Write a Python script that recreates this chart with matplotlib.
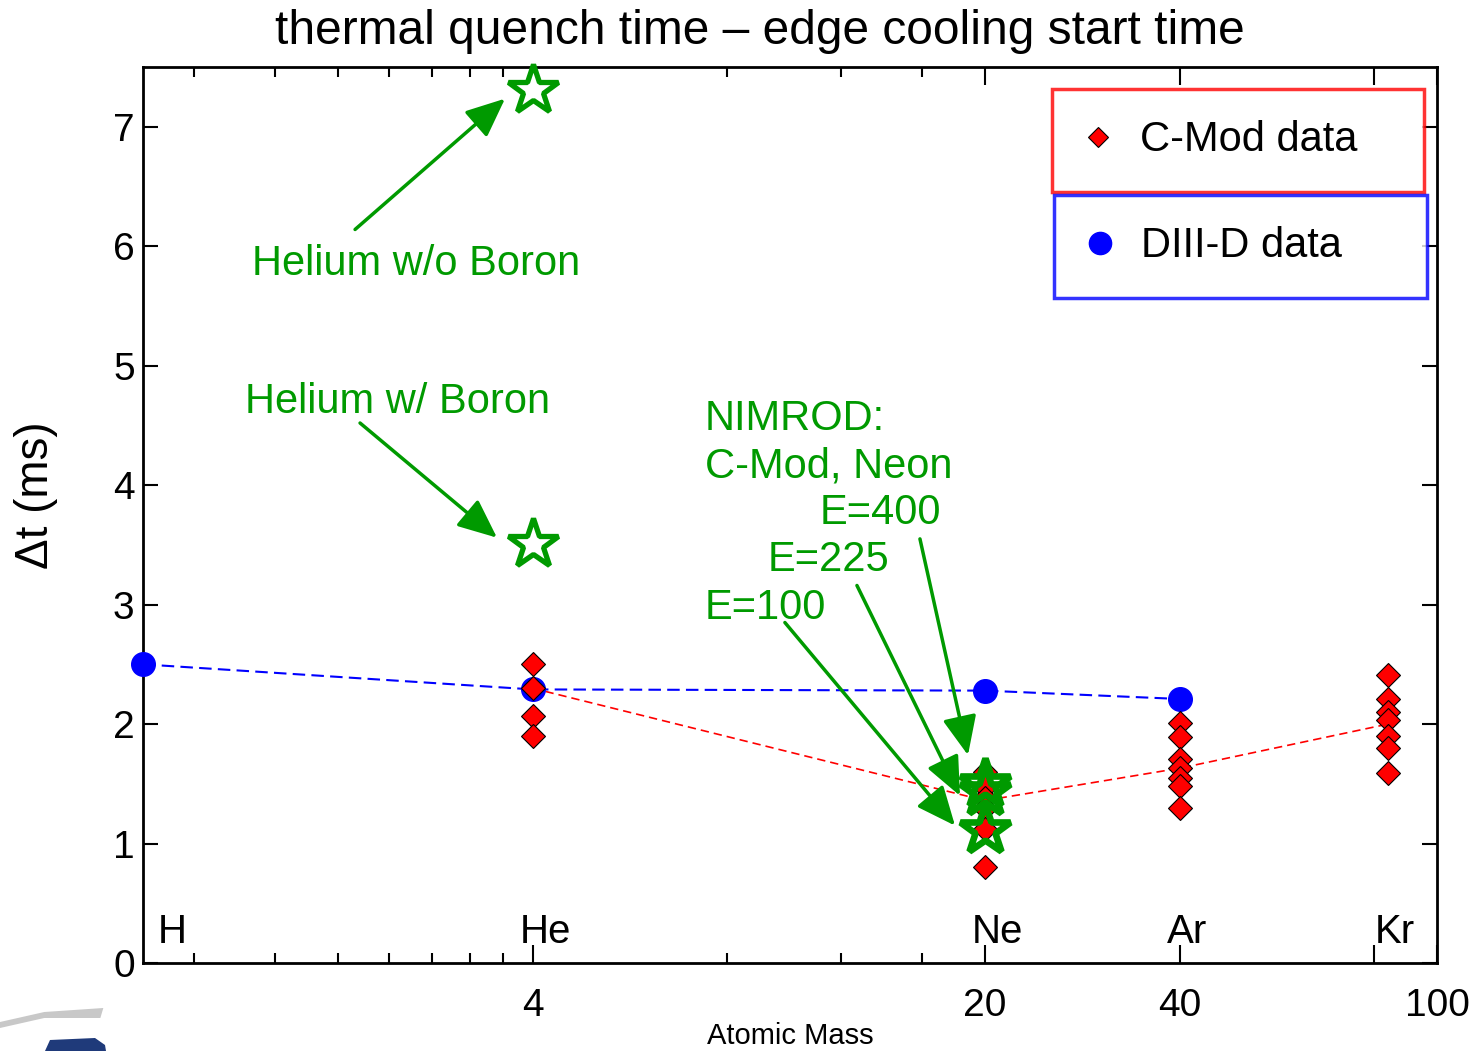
import numpy as np
import matplotlib
matplotlib.use("Agg")
import matplotlib.pyplot as plt
from matplotlib.patches import Polygon
from matplotlib.ticker import FixedLocator, FixedFormatter, NullFormatter

plt.rcParams['font.family'] = ['Liberation Sans', 'DejaVu Sans']

# ---------------- data ----------------
elements = ['H', 'He', 'Ne', 'Ar', 'Kr']
element_mass = [1, 4, 20, 40, 84]

cmod_he = [2.50, 2.30, 2.07, 1.90]
cmod_ne = [1.60, 1.47, 1.38, 1.30, 1.12, 0.80]
cmod_ar = [2.01, 1.89, 1.71, 1.63, 1.55, 1.48, 1.30]
cmod_kr = [2.41, 2.21, 2.10, 2.03, 1.90, 1.80, 1.59]
cmod_groups = [(4, cmod_he), (20, cmod_ne), (40, cmod_ar), (84, cmod_kr)]
cmod_trend_mass = [4, 20, 40, 84]
cmod_trend = [2.30, 1.36, 1.63, 2.00]

diiid_mass = [1, 4, 20, 40]
diiid_dt = [2.50, 2.29, 2.28, 2.21]

helium_star_mass = [4, 4]
helium_star_dt = [7.31, 3.51]
nimrod_mass = [20, 20, 20]
nimrod_dt = [1.50, 1.43, 1.11]

xticks_major = [4, 20, 40, 80, 100]
xtick_labels = ['4', '20', '40', '', '100']
xticks_minor = [1.2, 1.6, 2.0, 2.4, 2.8, 3.2, 3.6, 8, 12, 16]

GREEN = '#009a00'

# annotations: (text, text_x, text_y, arrow_from, arrow_to)
annotations = [
    ('Helium w/o Boron', 1.474, 5.85, (2.127, 6.14), (3.627, 7.235)),
    ('Helium w/ Boron', 1.438, 4.70, (2.165, 4.52), (3.525, 3.56)),
    ('E=400', 11.13, 3.77, (15.88, 3.55), (18.84, 1.74)),
    ('E=225', 9.25, 3.37, (12.69, 3.16), (18.31, 1.40)),
    ('E=100', 7.39, 2.97, (9.82, 2.85), (17.99, 1.15)),
]

# ---------------- figure ----------------
fig = plt.figure(figsize=(14.76, 10.51), dpi=100)
ax = fig.add_axes([143/1476, 1 - 963/1051, (1437-143)/1476, (963-67)/1051])
ax.set_xscale('log')
ax.set_xlim(1, 100)
ax.set_ylim(0, 7.5)

# trend lines
ax.plot(diiid_mass, diiid_dt, color='blue', lw=1.5, ls=(0, (6, 3)), zorder=2)
ax.plot(cmod_trend_mass, cmod_trend, color='red', lw=1.2, ls=(0, (5, 3)), zorder=2)

# DIII-D circles
ax.plot(diiid_mass, diiid_dt, ls='none', marker='o', ms=17, mfc='blue',
        mec='blue', zorder=3, clip_on=False)

# C-Mod diamonds
for m, vals in cmod_groups:
    ax.plot([m] * len(vals), vals, ls='none', marker='D', ms=12, mfc='red',
            mec='black', mew=0.8, zorder=4)

# stars
ax.plot(helium_star_mass, helium_star_dt, ls='none', marker='*', ms=38,
        mfc='white', mec=GREEN, mew=3.8, zorder=5, clip_on=False)
ax.plot(nimrod_mass, nimrod_dt, ls='none', marker='*', ms=38,
        mfc='none', mec=GREEN, mew=4.8, zorder=5)

# annotations
for txt, tx, ty, a0, a1 in annotations:
    ax.text(tx, ty, txt, color=GREEN, fontsize=30, ha='left', va='center', zorder=6)
    ax.annotate('', xy=a1, xytext=a0,
                arrowprops=dict(arrowstyle='-|>,head_length=0.8,head_width=0.35',
                                color=GREEN, lw=2.5, mutation_scale=30,
                                shrinkA=0, shrinkB=0), zorder=6)
ax.text(7.39, 4.55, 'NIMROD:', color=GREEN, fontsize=30, ha='left', va='center')
ax.text(7.39, 4.16, 'C-Mod, Neon', color=GREEN, fontsize=30, ha='left', va='center')

# element labels
for name, m in zip(elements, element_mass):
    dx = 15 if name == 'H' else -13
    ax.annotate(name, xy=(m, 0), xytext=(dx, 12), textcoords='offset pixels',
                ha='left', va='bottom', fontsize=29)

# ticks
ax.xaxis.set_major_locator(FixedLocator(xticks_major))
ax.xaxis.set_major_formatter(FixedFormatter(xtick_labels))
ax.xaxis.set_minor_locator(FixedLocator(xticks_minor))
ax.xaxis.set_minor_formatter(NullFormatter())
ax.set_yticks(range(0, 8))
ax.tick_params(which='both', direction='in', top=True, right=True, width=1.5,
               labelsize=28, color='black')
ax.tick_params(axis='x', which='major', length=13, pad=18)
ax.tick_params(axis='x', which='minor', length=7)
ax.tick_params(axis='y', which='major', length=11, pad=6)
for s in ax.spines.values():
    s.set_linewidth(2)

ax.set_ylabel('Δt (ms)', fontsize=33)
ax.yaxis.set_label_coords(-0.066, 0.522)
ax.set_xlabel('Atomic Mass', fontsize=21)
ax.xaxis.set_label_coords(0.5, -0.0655)
fig.text(760/1476, 1 - 31/1051, 'thermal quench time – edge cooling start time',
         ha='center', va='center', fontsize=34.5)

# legends (two separate boxes)
h1, = ax.plot([], [], ls='none', marker='D', ms=10, mfc='red', mec='black', mew=0.8)
h2, = ax.plot([], [], ls='none', marker='o', ms=16, mfc='blue', mec='blue')
leg_kw = dict(loc='upper left', mode='expand', fontsize=30, frameon=True,
              fancybox=False, borderpad=0.75, handletextpad=0.65,
              handlelength=0.7, borderaxespad=0)
leg1 = ax.legend([h1], ['C-Mod data'],
                 bbox_to_anchor=(0.7025, 0.9754 - 0.114, 0.2875, 0.114), **leg_kw)
leg1.get_frame().set_edgecolor('red')
leg1.get_frame().set_linewidth(2.5)
ax.add_artist(leg1)
leg2 = ax.legend([h2], ['DIII-D data'],
                 bbox_to_anchor=(0.704, 0.857 - 0.114, 0.2883, 0.114), **leg_kw)
leg2.get_frame().set_edgecolor('blue')
leg2.get_frame().set_linewidth(2.5)

# logo fragment in the lower-left corner
fig.patches.append(Polygon([[0, 1 - 1022/1051], [0.03, 1 - 1012/1051],
                            [0.07, 1 - 1008/1051], [0.068, 1 - 1018/1051],
                            [0.03, 1 - 1018/1051], [0, 1 - 1028/1051]],
                           closed=True, transform=fig.transFigure,
                           facecolor='#c8c8c8', edgecolor='none'))
fig.patches.append(Polygon([[45/1476, 0], [50/1476, 1 - 1040/1051],
                            [95/1476, 1 - 1038/1051], [105/1476, 1 - 1045/1051],
                            [106/1476, 0]], closed=True,
                           transform=fig.transFigure,
                           facecolor='#1f3a7a', edgecolor='none'))

fig.savefig('out.png', dpi=100)
